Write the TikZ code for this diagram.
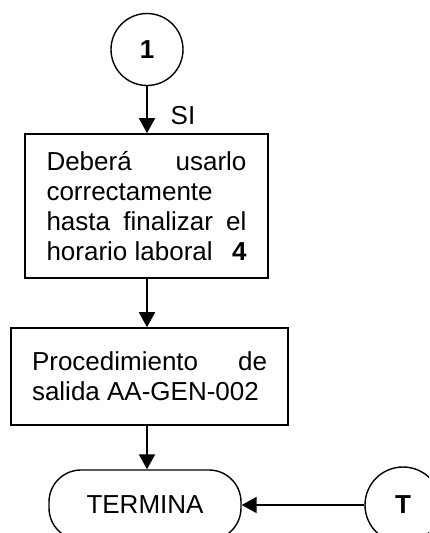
\documentclass[tikz,border=0pt]{standalone}
\usepackage{fontspec}
\setmainfont{Liberation Sans}
\usetikzlibrary{arrows.meta}
\begin{document}
\begin{tikzpicture}[x=1pt,y=-1pt,
  every node/.style={font=\fontsize{26}{30}\selectfont, inner sep=0pt},
  conn/.style={draw, line width=1.8pt, -{Triangle[length=15pt,width=16pt]}},
  procbox/.style={draw, line width=1.6pt, rectangle, align=left},
  connector/.style={draw, line width=1.4pt, circle},
  termbox/.style={draw, line width=1.4pt, rectangle, rounded corners=32pt}]
\clip (0,0) rectangle (429,533);
\fill[white] (0,0) rectangle (429,533);
\node[connector, minimum size=72pt] (c1) at (147,49.5) {\textbf{1}};
\node[procbox, minimum width=243pt, minimum height=144pt] (b1) at (146.5,206)
  {\raisebox{-3pt}{\parbox{200pt}{Deberá\hfill usarlo\\ correctamente\\ hasta\hfill finalizar\hfill el\\ horario laboral\hfill\textbf{4}}}};
\node[procbox, minimum width=277pt, minimum height=97pt] (b2) at (149.5,376.5)
  {\raisebox{2pt}{\parbox{235pt}{Procedimiento\hfill de\\ salida AA-GEN-002}}};
\node[termbox, minimum width=192pt, minimum height=70pt] (t) at (145,505) {TERMINA};
\node[connector, minimum size=76pt] (ct) at (403,505) {\textbf{T}};
\node (si) at (183,116) {SI};
\draw[conn] (c1.south) -- (c1.south |- b1.north);
\draw[conn] (c1.south |- b1.south) -- (c1.south |- b2.north);
\draw[conn] (c1.south |- b2.south) -- (c1.south |- t.north);
\draw[conn] (ct) -- (t);
\end{tikzpicture}
\end{document}
